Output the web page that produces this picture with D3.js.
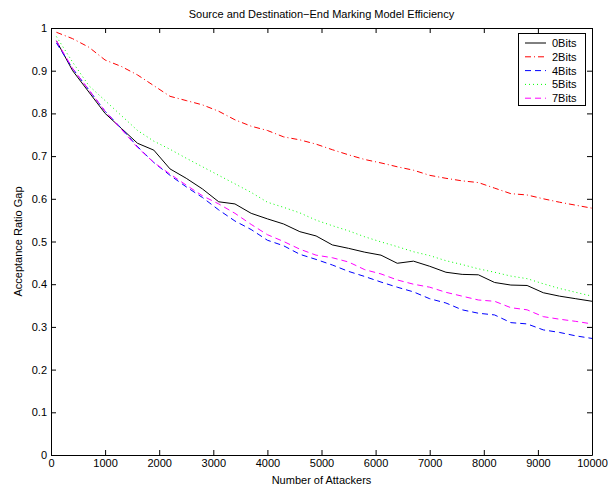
<!DOCTYPE html>
<html>
<head>
<meta charset="utf-8">
<script src="https://cdn.jsdelivr.net/npm/d3@7"></script>
<style>
  body { margin: 0; background: #fff; }
  svg { display: block; font-family: "Liberation Sans", Arial, sans-serif; }
</style>
</head>
<body>
<svg id="chart" width="608" height="488"></svg>
<script>
// attackers on x axis
const attackers = [100, 400, 700, 1000, 1300, 1600, 1900, 2200, 2500, 2800, 3100, 3400,
  3700, 4000, 4300, 4600, 4900, 5200, 5500, 5800, 6100, 6400, 6700, 7000, 7300, 7600,
  7900, 8200, 8500, 8800, 9100, 9400, 9700, 10000];

const bits0 = [0.97, 0.90, 0.85, 0.80, 0.765, 0.73, 0.714, 0.670, 0.648, 0.623, 0.593, 0.588,
  0.566, 0.553, 0.541, 0.523, 0.513, 0.492, 0.484, 0.475, 0.468, 0.449, 0.454, 0.442, 0.428, 0.423,
  0.422, 0.404, 0.398, 0.397, 0.380, 0.372, 0.366, 0.360];
const bits2 = [0.99, 0.975, 0.955, 0.925, 0.91, 0.89, 0.865, 0.84, 0.83, 0.82, 0.805, 0.785,
  0.77, 0.76, 0.745, 0.738, 0.728, 0.715, 0.703, 0.692, 0.684, 0.675, 0.667, 0.655, 0.648, 0.642,
  0.638, 0.625, 0.612, 0.609, 0.600, 0.592, 0.585, 0.578];
const bits4 = [0.965, 0.905, 0.855, 0.805, 0.765, 0.722, 0.685, 0.655, 0.628, 0.603, 0.574, 0.548,
  0.528, 0.503, 0.49, 0.47, 0.458, 0.445, 0.43, 0.418, 0.405, 0.393, 0.382, 0.366, 0.356, 0.34,
  0.332, 0.328, 0.31, 0.307, 0.293, 0.287, 0.279, 0.273];
const bits5 = [0.98, 0.92, 0.865, 0.83, 0.795, 0.76, 0.735, 0.716, 0.695, 0.675, 0.655, 0.635,
  0.615, 0.592, 0.580, 0.567, 0.550, 0.537, 0.525, 0.511, 0.499, 0.488, 0.476, 0.467, 0.455, 0.446,
  0.436, 0.428, 0.419, 0.413, 0.401, 0.390, 0.381, 0.372];
const bits7 = [0.97, 0.905, 0.855, 0.805, 0.763, 0.72, 0.685, 0.658, 0.632, 0.607, 0.588, 0.566,
  0.54, 0.516, 0.5, 0.482, 0.468, 0.462, 0.452, 0.434, 0.424, 0.41, 0.40, 0.393, 0.381, 0.372,
  0.363, 0.360, 0.345, 0.340, 0.324, 0.318, 0.313, 0.307];

const seriesNames = ["0Bits", "2Bits", "4Bits", "5Bits", "7Bits"];
const xTicks = [0, 1000, 2000, 3000, 4000, 5000, 6000, 7000, 8000, 9000, 10000];
const yTicks = [0, 0.1, 0.2, 0.3, 0.4, 0.5, 0.6, 0.7, 0.8, 0.9, 1];

const series = [
  { name: seriesNames[0], values: bits0, color: "#000000", dash: null },
  { name: seriesNames[1], values: bits2, color: "#ff0000", dash: "6,3,1,3" },
  { name: seriesNames[2], values: bits4, color: "#0000ff", dash: "6,4" },
  { name: seriesNames[3], values: bits5, color: "#00ff00", dash: "1,3" },
  { name: seriesNames[4], values: bits7, color: "#ff00ff", dash: "6,4" }
];

const mLeft = 51, mRight = 592, mTop = 28, mBottom = 455;
const svg = d3.select("#chart");

const x = d3.scaleLinear().domain([0, 10000]).range([mLeft, mRight]);
const y = d3.scaleLinear().domain([0, 1]).range([mBottom, mTop]);

// axes box with inward ticks
const tickLen = 5;
svg.append("g").attr("transform", `translate(0,${mBottom})`)
  .call(d3.axisBottom(x).tickValues(xTicks).tickFormat(d3.format("d")).tickSizeInner(-tickLen).tickSizeOuter(0).tickPadding(4));
svg.append("g").attr("transform", `translate(0,${mTop})`)
  .call(d3.axisTop(x).tickValues(xTicks).tickFormat("").tickSizeInner(-tickLen).tickSizeOuter(0));
svg.append("g").attr("transform", `translate(${mLeft},0)`)
  .call(d3.axisLeft(y).tickValues(yTicks).tickFormat(d => d === 0 || d === 1 ? d3.format("d")(d) : d3.format(".1f")(d)).tickSizeInner(-tickLen).tickSizeOuter(0).tickPadding(4));
svg.append("g").attr("transform", `translate(${mRight},0)`)
  .call(d3.axisRight(y).tickValues(yTicks).tickFormat("").tickSizeInner(-tickLen).tickSizeOuter(0));

svg.selectAll(".domain").attr("stroke", "#000").attr("stroke-width", 1);
svg.selectAll(".tick line").attr("stroke", "#000");
svg.selectAll(".tick text").attr("font-size", 11).attr("fill", "#000")
  .attr("font-family", "Liberation Sans, Arial, sans-serif");

// lines
const line = d3.line().x((d, i) => x(attackers[i])).y(d => y(d));
series.forEach(s => {
  svg.append("path").datum(s.values)
    .attr("d", line)
    .attr("fill", "none")
    .attr("stroke", s.color)
    .attr("stroke-width", 1)
    .attr("stroke-dasharray", s.dash);
});

// title and labels
svg.append("text").attr("x", (mLeft + mRight) / 2).attr("y", 18).attr("text-anchor", "middle")
  .attr("font-size", 11).text("Source and Destination\u2212End Marking Model Efficiency");
svg.append("text").attr("x", (mLeft + mRight) / 2).attr("y", 484).attr("text-anchor", "middle")
  .attr("font-size", 11).text("Number of Attackers");
svg.append("text").attr("transform", `translate(22,${(mTop + mBottom) / 2}) rotate(-90)`)
  .attr("text-anchor", "middle").attr("font-size", 11).text("Acceptance Ratio Gap");

// legend
const legend = svg.append("g");
legend.append("rect").attr("x", 518.5).attr("y", 33.5).attr("width", 67).attr("height", 72)
  .attr("fill", "#fff").attr("stroke", "#000").attr("stroke-width", 1);
series.forEach((s, i) => {
  const ly = 43 + i * 13.8;
  legend.append("line").attr("x1", 525).attr("x2", 546).attr("y1", ly).attr("y2", ly)
    .attr("stroke", s.color).attr("stroke-width", 1).attr("stroke-dasharray", s.dash);
  legend.append("text").attr("x", 552).attr("y", ly + 4).attr("font-size", 11).text(s.name);
});
</script>
</body>
</html>
